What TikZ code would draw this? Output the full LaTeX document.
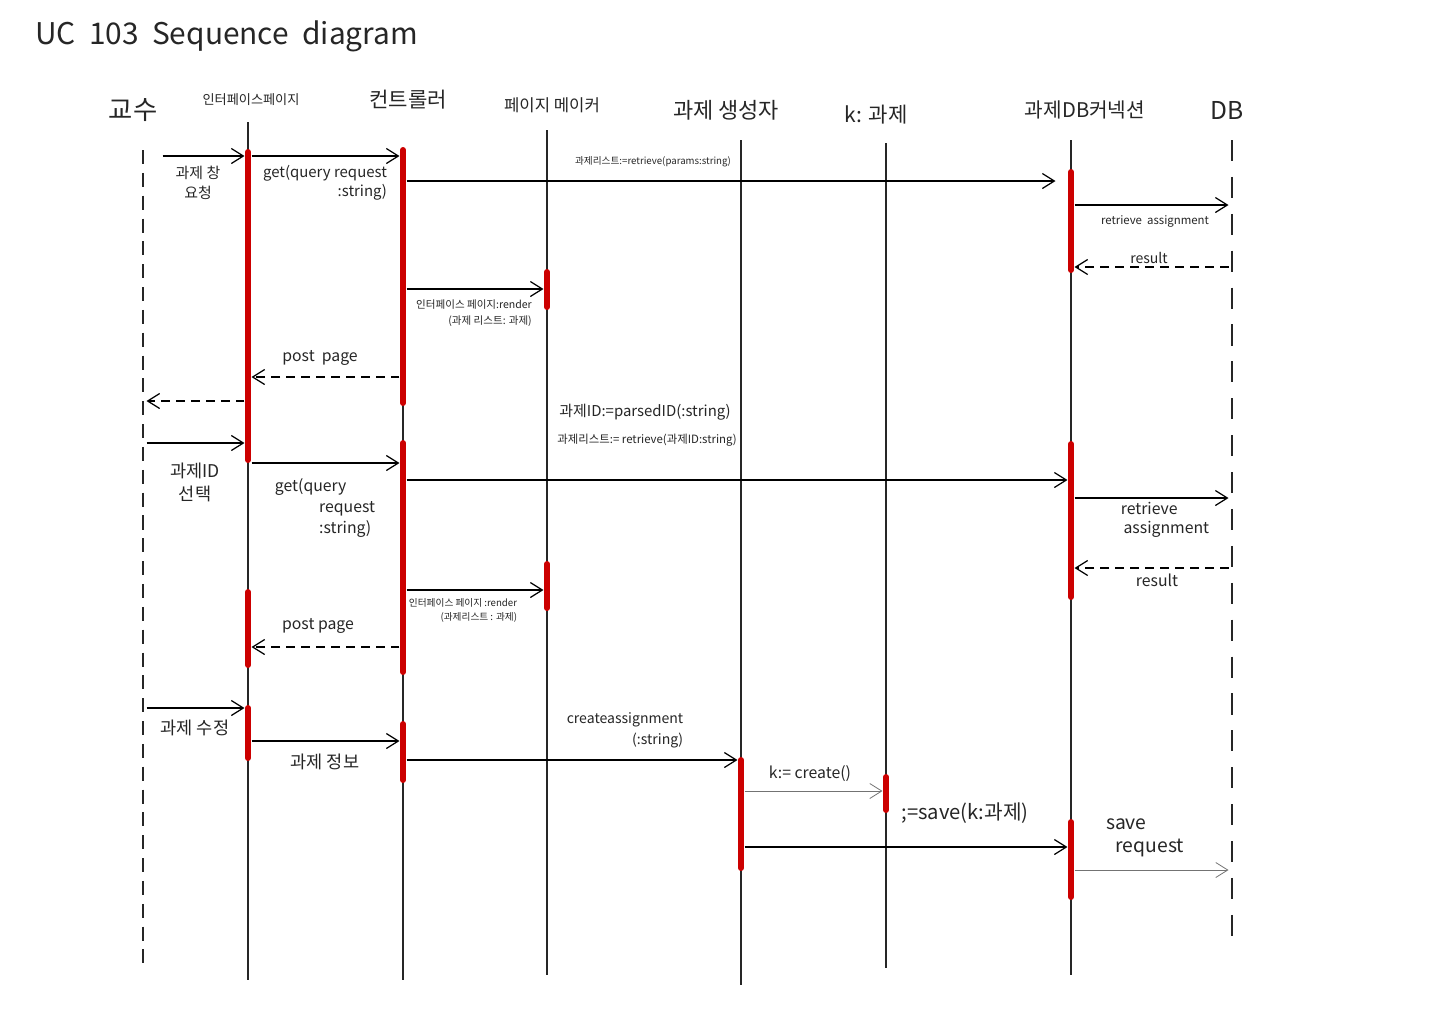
\documentclass[tikz,border=0pt]{standalone}
\usepackage{fontspec}
\setmainfont{Noto Sans CJK KR}
\usetikzlibrary{arrows.meta}

\definecolor{barred}{RGB}{204,0,0}

\begin{document}
\begin{tikzpicture}[
x=0.02cm, y=-0.02cm,
lifeline/.style={
draw=black!85,
line width=0.7pt
},
actbar/.style={
draw=barred,
line width=3.4pt,
line cap=round
},
msg/.style={
-{Straight Barb[length=2.4mm,width=3mm]},
line width=0.7pt,
shorten >=2pt,
shorten <=2pt
},
thinmsg/.style={
msg,
draw=black!55,
line width=0.45pt
},
reply/.style={
msg,
dash pattern=on 5pt off 3.5pt
},
head/.style={
inner sep=1pt,
text=black!85
},
lbl/.style={
inner sep=1pt,
text=black!85
}
]

\path[use as bounding box, fill=white] (0,0) rectangle (1440,1019);

% title
\node (title) [lbl, anchor=west, font=\fontsize{17}{20}\selectfont] at (33,36)
{UC\ \ 103\ \ Sequence\ \ diagram};

% headers
\node (hprof) [head, font=\fontsize{15}{17}\selectfont] at (133,110) {교수};
\node (hifp) [head, font=\fontsize{7.5}{9}\selectfont] at (251,100) {인터페이스페이지};
\node (hctl) [head, font=\fontsize{12}{14}\selectfont] at (408,100) {컨트롤러};
\node (hpgm) [head, font=\fontsize{9.5}{11}\selectfont] at (552,105) {페이지 메이커};
\node (hgen) [head, font=\fontsize{12.5}{14}\selectfont] at (726,110) {과제 생성자};
\node (hk) [head, font=\fontsize{12}{14}\selectfont] at (876,115) {k: 과제};
\node (hdbc) [head, font=\fontsize{11.5}{14}\selectfont] at (1085,110) {과제DB커넥션};
\node (hdb) [head, font=\fontsize{14}{16}\selectfont] at (1227,110) {DB};

% lifelines
\foreach \n/\x/\ya/\yb in {prof/143/150/970, ifp/248/122/980, ctl/403/150/980,
  pgm/547/130/975, gen/741/140/985, k/886/143/968, dbc/1071/140/975, db/1232/140/948}{
  \coordinate (\n-t) at (\x,\ya);
  \coordinate (\n-b) at (\x,\yb);
}
\draw [lifeline, dash pattern=on 8pt off 5pt] (prof-t) -- (prof-b);
\draw [lifeline, dash pattern=on 12pt off 9pt] (db-t) -- (db-b);
\foreach \n in {ifp, ctl, pgm, gen, k, dbc}
  \draw [lifeline] (\n-t) -- (\n-b);

% activation bars
\foreach \n/\ya/\yb in {ifp/152/460, ifp/592/665, ifp/708/758,
  ctl/150/403, ctl/443/672, ctl/724/780, pgm/272/307, pgm/564/608,
  gen/760/868, k/777/810, dbc/172/270, dbc/444/597, dbc/822/897}
  \draw [actbar] (\n-t |- 0,\ya) -- (\n-t |- 0,\yb);

% messages
\draw [msg] ([xshift=0.32cm]prof-t |- 0,156) -- (ifp-t |- 0,156);
\draw [msg] (ctl-t |- 0,181) -- ([xshift=-0.24cm]dbc-t |- 0,181);
\foreach \a/\b/\y/\s in {ifp/ctl/156/msg,
  dbc/db/205/msg, db/dbc/267/reply, ctl/pgm/289/msg, ctl/ifp/377/reply,
  ifp/prof/401/reply, prof/ifp/443/msg, ifp/ctl/463/msg, ctl/dbc/480/msg,
  dbc/db/498/msg, db/dbc/568/reply, ctl/pgm/590/msg, ctl/ifp/647/reply,
  prof/ifp/708/msg, ifp/ctl/741/msg, ctl/gen/760/msg, gen/k/791/thinmsg,
  gen/dbc/847/msg, dbc/db/870/thinmsg}
  \draw [\s] (\a-t |- 0,\y) -- (\b-t |- 0,\y);

% message labels
\node (l1) [lbl, align=center, font=\fontsize{8.5}{11}\selectfont] at (198,183) {과제 창\\요청};
\node (l2) [lbl, align=right, font=\fontsize{8.5}{11}\selectfont] at (325,183) {get(query request\\:string)};
\node (l3) [lbl, font=\fontsize{5.5}{7}\selectfont] at (653,162) {과제리스트:=retrieve(params:string)};
\node (l4) [lbl, font=\fontsize{6.5}{8}\selectfont] at (1155,221) {retrieve\ \ assignment};
\node (l5) [lbl, font=\fontsize{8}{10}\selectfont] at (1149,258) {result};
\node (l6) [lbl, align=right, font=\fontsize{6}{9}\selectfont] at (474,313) {인터페이스 페이지:render\\(과제 리스트: 과제)};
\node (l7) [lbl, font=\fontsize{9}{11}\selectfont] at (320,358) {post\ \ page};
\node (l8) [lbl, font=\fontsize{8.5}{10}\selectfont] at (645,412) {과제ID:=parsedID(:string)};
\node (l9) [lbl, font=\fontsize{6.5}{8}\selectfont] at (647,440) {과제리스트:= retrieve(과제ID:string)};
\node (l10) [lbl, align=center, font=\fontsize{10}{13}\selectfont] at (195,482) {과제ID\\선택};
\node (l11) [lbl, align=left, font=\fontsize{9}{12}\selectfont] at (325,508)
{get(query\\\hspace*{2.8em}request\\\hspace*{2.8em}:string)};
\node (l12) [lbl, align=right, font=\fontsize{9}{10.5}\selectfont] at (1165,520) {retrieve\hspace*{2em}\\assignment};
\node (l13) [lbl, font=\fontsize{9}{11}\selectfont] at (1157,580) {result};
\node (l14) [lbl, align=right, font=\fontsize{5.5}{8}\selectfont] at (463,610) {인터페이스 페이지 :render\\(과제리스트 : 과제)};
\node (l15) [lbl, font=\fontsize{9}{11}\selectfont] at (318,626) {post page};
\node (l16) [lbl, font=\fontsize{10}{12}\selectfont] at (195,728) {과제 수정};
\node (l17) [lbl, font=\fontsize{10}{12}\selectfont] at (325,762) {과제 정보};
\node (l18) [lbl, align=right, font=\fontsize{8}{12}\selectfont] at (625,730) {createassignment\\(:string)};
\node (l19) [lbl, font=\fontsize{9}{11}\selectfont] at (810,774) {k:= create()};
\node (l20) [lbl, font=\fontsize{11.5}{13}\selectfont] at (965,813) {;=save(k:과제)};
\node (l21) [lbl, align=left, font=\fontsize{11}{13}\selectfont] at (1145,838) {save\\\hspace*{0.5em}request};

\end{tikzpicture}
\end{document}
